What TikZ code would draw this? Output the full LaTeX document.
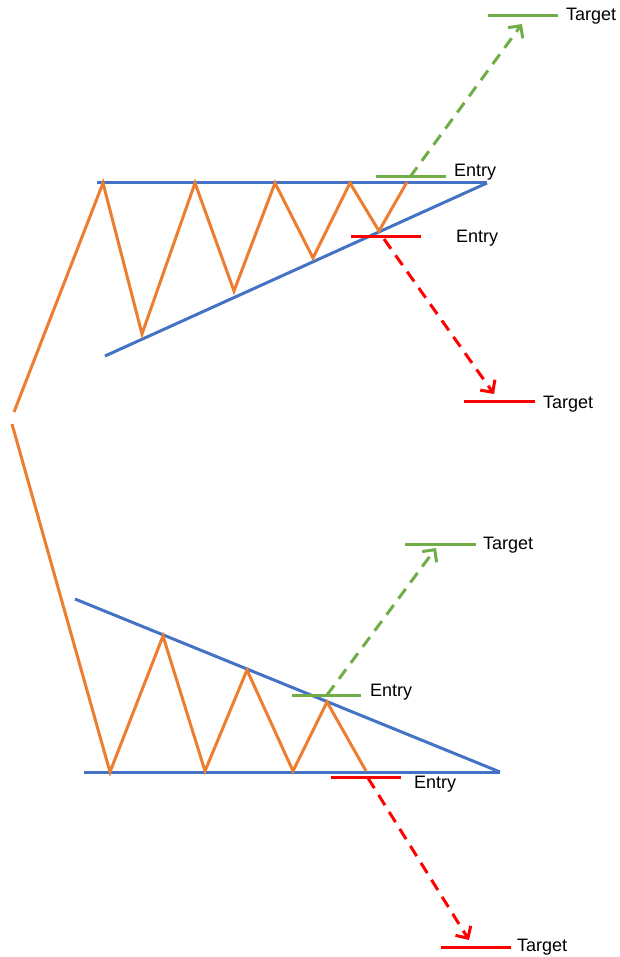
\documentclass[tikz,border=0pt]{standalone}
\usepackage{fontspec}
\setmainfont{Liberation Sans}
\usetikzlibrary{arrows.meta}
\definecolor{trendblue}{HTML}{4472C4}
\definecolor{priceorange}{HTML}{ED7D31}
\definecolor{longgreen}{HTML}{70AD47}
\definecolor{shortred}{HTML}{FF0000}

\begin{document}
\begin{tikzpicture}[x=1pt,y=-1pt,
  trend/.style={draw=trendblue,line width=3pt},
  price/.style={draw=priceorange,line width=3pt},
  level/.style={line width=3pt},
  move/.style={line width=3pt,dash pattern=on 12pt off 8pt,
    -{Straight Barb[length=9pt,width=18pt,line width=3pt]}},
  lbl/.style={anchor=base west,inner sep=0pt,font=\fontsize{18}{21}\selectfont}]
\useasboundingbox (0,0) rectangle (619,957);

% ---------- ascending triangle ----------
\coordinate (at1) at (97,183);
\coordinate (at2) at (487,183);
\coordinate (ab1) at (105,356);
\draw[trend] (at1) -- (at2);
\draw[trend] (ab1) -- (at2);

\coordinate (p0) at (14,412);
\coordinate (p1) at (103,183);
\coordinate (p2) at (142,334);
\coordinate (p3) at (195,183);
\coordinate (p4) at (234,291);
\coordinate (p5) at (275,183);
\coordinate (p6) at (313,258);
\coordinate (p7) at (350,183);
\coordinate (p8) at (379,231);
\coordinate (p9) at (407,182);
\draw[price] (p0) -- (p1) -- (p2) -- (p3) -- (p4) -- (p5) -- (p6) -- (p7) -- (p8) -- (p9);

% breakout long
\coordinate (ge1a) at (376,177);
\coordinate (ge1b) at (446,177);
\draw[level,longgreen] (ge1a) -- (ge1b);
\node[lbl] (ge1) at (454,177) {Entry};
\coordinate (gt1a) at (488,16);
\coordinate (gt1b) at (558,16);
\draw[level,longgreen] (gt1a) -- (gt1b);
\node[lbl] (gt1) at (566,21) {Target};
\coordinate (gs1) at (410,177);
\coordinate (gh1) at (522,24);
\draw[move,longgreen] (gs1) -- (gh1);

% breakdown short
\coordinate (re1a) at (351,237);
\coordinate (re1b) at (421,237);
\draw[level,shortred] (re1a) -- (re1b);
\node[lbl] (re1) at (456,243) {Entry};
\coordinate (rt1a) at (464,401);
\coordinate (rt1b) at (535,401);
\draw[level,shortred] (rt1a) -- (rt1b);
\node[lbl] (rt1) at (543,408) {Target};
\coordinate (rs1) at (384,239);
\coordinate (rh1) at (494,394);
\draw[move,shortred] (rs1) -- (rh1);

% ---------- descending triangle ----------
\coordinate (db1) at (84,772);
\coordinate (db2) at (500,772);
\coordinate (dt1) at (75,599);
\draw[trend] (db1) -- (db2);
\draw[trend] (dt1) -- (db2);

\coordinate (q0) at (12,424);
\coordinate (q1) at (110,772);
\coordinate (q2) at (163,636);
\coordinate (q3) at (205,771);
\coordinate (q4) at (247,670);
\coordinate (q5) at (293,771);
\coordinate (q6) at (327,702);
\coordinate (q7) at (366,771);
\draw[price] (q0) -- (q1) -- (q2) -- (q3) -- (q4) -- (q5) -- (q6) -- (q7);

% breakout long
\coordinate (ge2a) at (292,695);
\coordinate (ge2b) at (361,695);
\draw[level,longgreen] (ge2a) -- (ge2b);
\node[lbl] (ge2) at (370,696) {Entry};
\coordinate (gt2a) at (405,544);
\coordinate (gt2b) at (476,544);
\draw[level,longgreen] (gt2a) -- (gt2b);
\node[lbl] (gt2) at (483,549) {Target};
\coordinate (gs2) at (327,695);
\coordinate (gh2) at (436,548);
\draw[move,longgreen] (gs2) -- (gh2);

% breakdown short
\coordinate (re2a) at (331,777);
\coordinate (re2b) at (401,777);
\draw[level,shortred] (re2a) -- (re2b);
\node[lbl] (re2) at (414,788) {Entry};
\coordinate (rt2a) at (441,947);
\coordinate (rt2b) at (511,947);
\draw[level,shortred] (rt2a) -- (rt2b);
\node[lbl] (rt2) at (517,951) {Target};
\coordinate (rs2) at (368,778);
\coordinate (rh2) at (469,940);
\draw[move,shortred] (rs2) -- (rh2);
\end{tikzpicture}
\end{document}
